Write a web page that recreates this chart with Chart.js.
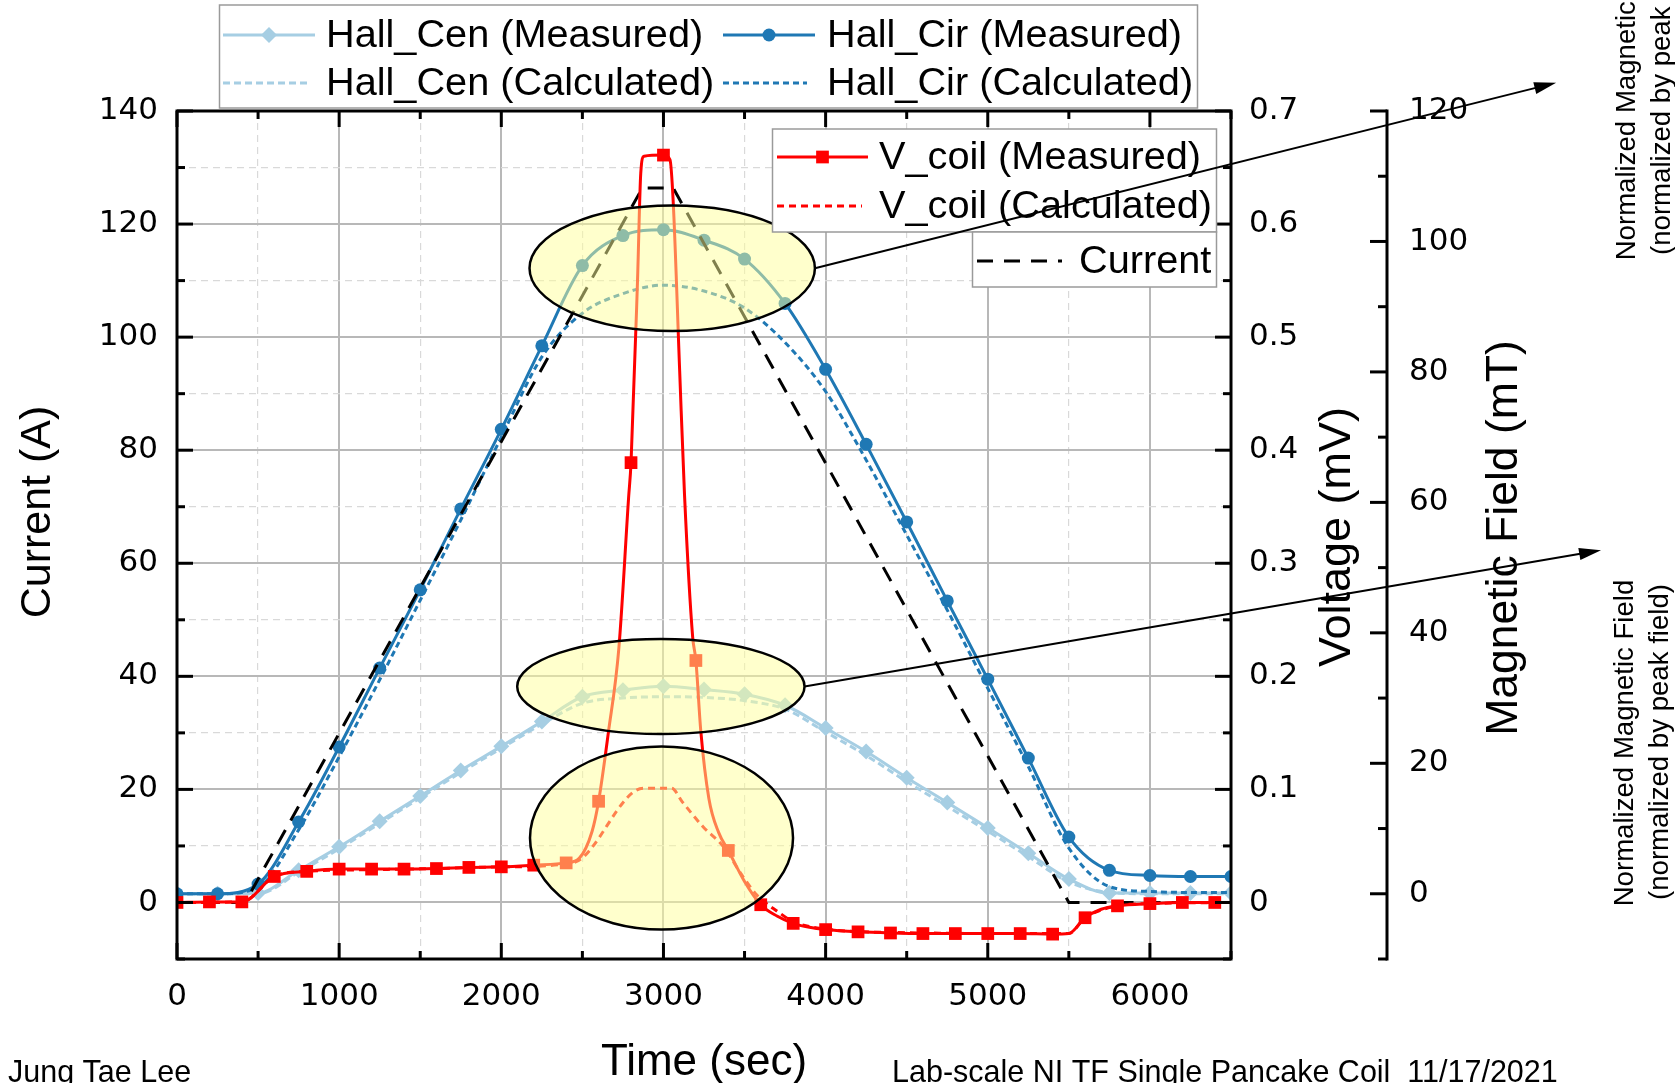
<!DOCTYPE html>
<html>
<head>
<meta charset="utf-8">
<script src="https://cdn.jsdelivr.net/npm/chart.js@4.4.0/dist/chart.umd.min.js"></script>
<style>
  html, body { margin: 0; padding: 0; background: #fff; }
  #grafico { display: block; }
</style>
</head>
<body>
<canvas id="grafico" width="1675" height="1083"></canvas>
<script>
// Hall probes, one sample every 250 s (mT)
const tiempoHall = [0,250,500,750,1000,1250,1500,1750,2000,2250,2500,2750,3000,3250,3500,3750,4000,4250,4500,4750,5000,5250,5500,5750,6000,6250,6500];
const hallCenMedido    = [0,0,0.1,3.6,7.2,11.1,15.0,18.9,22.6,26.4,30.2,31.2,31.8,31.3,30.6,28.9,25.4,21.8,17.8,14.0,10.1,6.2,2.25,0.1,0.1,0.1,0.1];
const hallCenCalculado = [0,0,0,3.3,6.9,10.8,14.7,18.6,22.3,26.0,29.2,30.0,30.2,30.1,29.6,28.3,24.8,21.2,17.2,13.4,9.6,5.7,1.8,0.2,0,0,0];
const hallCirMedido    = [0,0,1.5,11.0,22.5,34.6,46.6,59.0,71.2,84.0,96.3,100.9,101.8,100.2,97.3,90.5,80.4,68.9,57.0,44.9,32.9,20.8,8.7,3.6,2.8,2.65,2.65];
const hallCirCalculado = [0,0,1.0,9.8,21.0,32.8,45.0,57.3,70.0,82.3,89.0,92.0,93.3,92.4,89.8,84.5,77.0,66.5,55.0,43.5,31.5,19.5,7.0,1.1,0.35,0.2,0.2];

// Coil voltage, measured (mV)
const tiempoVcoil = [0,200,400,600,800,1000,1200,1400,1600,1800,2000,2200,2400,2480,2560,2600,2660,2725,2785,2800,2840,2860,2880,3000,3040,3060,3100,3130,3180,3200,3230,3280,3340,3400,3500,3600,3700,3800,3900,4000,4200,4400,4600,4800,5000,5200,5400,5500,5600,5700,5800,6000,6200,6400,6500];
const vcoilMedido = [0,0.0005,0.0005,0.023,0.0275,0.0295,0.0295,0.0295,0.030,0.031,0.0315,0.033,0.035,0.039,0.063,0.0895,0.15,0.225,0.358,0.389,0.55,0.645,0.66,0.661,0.657,0.62,0.47,0.36,0.235,0.214,0.152,0.092,0.062,0.046,0.0185,-0.002,-0.012,-0.0185,-0.022,-0.024,-0.026,-0.027,-0.0275,-0.0275,-0.0275,-0.0275,-0.028,-0.0275,-0.0135,-0.006,-0.003,-0.001,0,0,0];

// Coil voltage, calculated (mV)
const tiempoVcalc = [0,400,600,800,1200,1600,2000,2440,2876,3050,3116,3244,3372,3480,3576,3704,3800,4000,4400,5400,5500,5600,5800,6000,6500];
const vcoilCalculado = [0,0.0005,0.023,0.0275,0.029,0.030,0.0315,0.035,0.101,0.101,0.089,0.067,0.049,0.025,0.0065,-0.008,-0.017,-0.0235,-0.0265,-0.0275,-0.0275,-0.0135,-0.003,-0.001,0];

// Operating current (A)
const tiempoCorriente = [0,420,2870,3060,5500,6500];
const corriente = [0,0,126.4,126.4,0,0];

const AZUL_CLARO = '#a6cee3';
const AZUL = '#1f78b4';
const ROJO = '#ff0000';
const TEXTO = '"Liberation Sans", Arial, sans-serif';
const NUMEROS = '"DejaVu Sans", sans-serif';

const puntos = (xs, ys) => xs.map((x, i) => ({x: x, y: ys[i]}));

// Highlight ellipses, in data units (s, A)
const elipses = [
  {t: 3054, i: 112.2, dt: 880, di: 11.1},
  {t: 2984, i: 38.2,  dt: 886, di: 8.4},
  {t: 2988, i: 11.4,  dt: 811, di: 16.2}
];
// Arrows leave the right edge of an ellipse and end outside the plot
const flechas = [
  {desde: 0, t: 8505, i: 145},
  {desde: 1, t: 8782, i: 62.3}
];

function raya(ctx, x1, y1, x2, y2) {
  ctx.beginPath(); ctx.moveTo(x1, y1); ctx.lineTo(x2, y2); ctx.stroke();
}

function marcador(ctx, tipo, x, y, r, color) {
  ctx.save();
  ctx.fillStyle = color;
  ctx.beginPath();
  if (tipo === 'circle') ctx.arc(x, y, r, 0, Math.PI * 2);
  if (tipo === 'rectRot') { ctx.moveTo(x, y - r); ctx.lineTo(x + r, y); ctx.lineTo(x, y + r); ctx.lineTo(x - r, y); ctx.closePath(); }
  if (tipo === 'rect') { const h = r * Math.SQRT1_2; ctx.rect(x - h, y - h, 2 * h, 2 * h); }
  ctx.fill();
  ctx.restore();
}

function muestra(ctx, ds, x0, x1, y, mx, texto, tx) {
  ctx.save();
  ctx.strokeStyle = ds.borderColor;
  ctx.lineWidth = ds.borderWidth;
  ctx.setLineDash(ds.borderDash || []);
  raya(ctx, x0, y, x1, y);
  ctx.restore();
  if (mx) marcador(ctx, ds.pointStyle, mx, y, ds.radioLeyenda, ds.borderColor);
  ctx.fillStyle = '#000';
  ctx.font = '39.7px ' + TEXTO;
  ctx.textAlign = 'left';
  ctx.textBaseline = 'middle';
  ctx.fillText(texto, tx, y + 1);
}

function caja(ctx, x, y, w, h) {
  ctx.save();
  ctx.fillStyle = '#fff';
  ctx.fillRect(x, y, w, h);
  ctx.strokeStyle = '#9a9a9a';
  ctx.lineWidth = 1.5;
  ctx.strokeRect(x, y, w, h);
  ctx.restore();
}

function textoVertical(ctx, texto, x, y, fuente, base) {
  ctx.save();
  ctx.translate(x, y);
  ctx.rotate(-Math.PI / 2);
  ctx.font = fuente;
  ctx.fillStyle = '#000';
  ctx.textAlign = 'center';
  ctx.textBaseline = base || 'alphabetic';
  ctx.fillText(texto, 0, 0);
  ctx.restore();
}

const decoracion = {
  id: 'decoracion',
  afterDatasetsDraw(chart) {
    const ctx = chart.ctx, a = chart.chartArea;
    const sx = chart.scales.x, sy = chart.scales.y, sv = chart.scales.yV, sb = chart.scales.yB;
    const ds = chart.data.datasets;
    ctx.save();

    // yellow ellipses over the curves
    elipses.forEach(e => {
      const cx = sx.getPixelForValue(e.t), cy = sy.getPixelForValue(e.i);
      const rx = sx.getPixelForValue(e.t + e.dt) - cx;
      const ry = cy - sy.getPixelForValue(e.i + e.di);
      ctx.beginPath();
      ctx.ellipse(cx, cy, rx, ry, 0, 0, Math.PI * 2);
      ctx.fillStyle = 'rgba(255,255,153,0.5)';
      ctx.fill();
      ctx.lineWidth = 2.5;
      ctx.strokeStyle = '#000';
      ctx.stroke();
    });

    // frame and inward ticks
    ctx.strokeStyle = '#000';
    ctx.lineWidth = 3;
    ctx.strokeRect(a.left, a.top, a.right - a.left, a.bottom - a.top);
    sx.ticks.forEach(t => {
      const px = sx.getPixelForValue(t.value), l = t.value % 1000 === 0 ? 16 : 8;
      raya(ctx, px, a.bottom, px, a.bottom - l);
      raya(ctx, px, a.top, px, a.top + l);
    });
    sy.ticks.forEach(t => {
      const py = sy.getPixelForValue(t.value), l = t.value % 20 === 0 ? 16 : 8;
      raya(ctx, a.left, py, a.left + l, py);
    });
    sv.ticks.forEach(t => {
      const py = sv.getPixelForValue(t.value), l = Math.round(t.value * 100) % 10 === 0 ? 16 : 8;
      raya(ctx, a.right, py, a.right - l, py);
    });
    // magnetic field axis
    raya(ctx, sb.left, a.top - 1.5, sb.left, a.bottom + 1.5);
    sb.ticks.forEach(t => {
      const py = sb.getPixelForValue(t.value), l = t.value % 20 === 0 ? 17 : 9;
      raya(ctx, sb.left, py, sb.left - l, py);
    });

    // legends
    caja(ctx, 219.5, 5, 978, 103);
    muestra(ctx, ds[5], 223, 315, 35, 269, 'Hall_Cen (Measured)', 326);
    muestra(ctx, ds[3], 723, 815, 35, 769, 'Hall_Cir (Measured)', 827);
    muestra(ctx, ds[6], 223, 307, 83, 0, 'Hall_Cen (Calculated)', 326);
    muestra(ctx, ds[4], 723, 807, 83, 0, 'Hall_Cir (Calculated)', 827);

    caja(ctx, 772.5, 129, 444, 103);
    muestra(ctx, ds[0], 777, 868, 157, 822.5, 'V_coil (Measured)', 879);
    muestra(ctx, ds[1], 777, 862, 206, 0, 'V_coil (Calculated)', 879);
    caja(ctx, 972.5, 232, 244, 55);
    muestra(ctx, ds[2], 977, 1062, 261, 0, 'Current', 1079);

    ctx.restore();
  },
  afterDraw(chart) {
    const ctx = chart.ctx;
    const sx = chart.scales.x, sy = chart.scales.y;
    ctx.save();

    // arrows
    flechas.forEach(f => {
      const e = elipses[f.desde];
      const x1 = sx.getPixelForValue(e.t + e.dt), y1 = sy.getPixelForValue(e.i);
      const x2 = sx.getPixelForValue(f.t), y2 = sy.getPixelForValue(f.i);
      const ang = Math.atan2(y2 - y1, x2 - x1);
      ctx.strokeStyle = '#000';
      ctx.lineWidth = 2;
      raya(ctx, x1, y1, x2 - 18 * Math.cos(ang), y2 - 18 * Math.sin(ang));
      ctx.fillStyle = '#000';
      ctx.beginPath();
      ctx.moveTo(x2, y2);
      ctx.lineTo(x2 - 22 * Math.cos(ang) + 6 * Math.sin(ang), y2 - 22 * Math.sin(ang) - 6 * Math.cos(ang));
      ctx.lineTo(x2 - 22 * Math.cos(ang) - 6 * Math.sin(ang), y2 - 22 * Math.sin(ang) + 6 * Math.cos(ang));
      ctx.closePath();
      ctx.fill();
    });

    // vertical axis titles
    textoVertical(ctx, 'Current (A)', 50, 512, '43px ' + TEXTO);
    textoVertical(ctx, 'Voltage (mV)', 1350, 537, '45px ' + TEXTO);
    textoVertical(ctx, 'Magnetic Field (mT)', 1517, 538, '44.5px ' + TEXTO);

    // side notes
    const nota = '27.6px ' + TEXTO;
    textoVertical(ctx, 'Normalized Magnetic Field', 1627, 97, nota, 'middle');
    textoVertical(ctx, '(normalized by peak field)', 1662, 97, nota, 'middle');
    textoVertical(ctx, 'Normalized Magnetic Field', 1625, 743, nota, 'middle');
    textoVertical(ctx, '(normalized by peak field)', 1660, 742, nota, 'middle');

    // footer
    ctx.font = '30.5px ' + TEXTO;
    ctx.fillStyle = '#000';
    ctx.textAlign = 'left';
    ctx.textBaseline = 'alphabetic';
    ctx.fillText('Jung Tae Lee', 8, 1082);
    ctx.fillText('Lab-scale NI TF Single Pancake Coil  11/17/2021', 892, 1082);
    ctx.restore();
  }
};

const gridColor = (paso) => c => (c.tick && c.tick.value % paso === 0) ? '#b8b8b8' : '#d9d9d9';
const gridAncho = (paso) => c => (c.tick && c.tick.value % paso === 0) ? 2 : 1.2;
const gridDash  = (paso) => c => (c.tick && c.tick.value % paso !== 0) ? [7, 5] : [];

new Chart(document.getElementById('grafico'), {
  type: 'line',
  data: {
    datasets: [
      {
        label: 'V_coil (Measured)',
        data: puntos(tiempoVcoil, vcoilMedido),
        yAxisID: 'yV',
        borderColor: ROJO, backgroundColor: ROJO,
        borderWidth: 3,
        pointStyle: 'rect',
        pointRadius: c => tiempoVcoil[c.dataIndex] % 200 === 0 ? 9 : 0,
        pointBorderWidth: 0,
        radioLeyenda: 9,
        cubicInterpolationMode: 'monotone',
        order: 0
      },
      {
        label: 'V_coil (Calculated)',
        data: puntos(tiempoVcalc, vcoilCalculado),
        yAxisID: 'yV',
        borderColor: ROJO,
        borderWidth: 3,
        borderDash: [7, 5],
        pointRadius: 0,
        cubicInterpolationMode: 'monotone',
        order: 1
      },
      {
        label: 'Current',
        data: puntos(tiempoCorriente, corriente),
        yAxisID: 'y',
        borderColor: '#000',
        borderWidth: 3,
        borderDash: [16, 11],
        pointRadius: 0,
        tension: 0,
        order: 2
      },
      {
        label: 'Hall_Cir (Measured)',
        data: puntos(tiempoHall, hallCirMedido),
        yAxisID: 'yB',
        borderColor: AZUL, backgroundColor: AZUL,
        borderWidth: 3,
        pointStyle: 'circle',
        pointRadius: 6.5,
        pointBorderWidth: 0,
        radioLeyenda: 6.5,
        cubicInterpolationMode: 'monotone',
        order: 3
      },
      {
        label: 'Hall_Cir (Calculated)',
        data: puntos(tiempoHall, hallCirCalculado),
        yAxisID: 'yB',
        borderColor: AZUL,
        borderWidth: 3,
        borderDash: [6, 4],
        pointRadius: 0,
        cubicInterpolationMode: 'monotone',
        order: 4
      },
      {
        label: 'Hall_Cen (Measured)',
        data: puntos(tiempoHall, hallCenMedido),
        yAxisID: 'yB',
        borderColor: AZUL_CLARO, backgroundColor: AZUL_CLARO,
        borderWidth: 3,
        pointStyle: 'rectRot',
        pointRadius: 8,
        pointBorderWidth: 0,
        radioLeyenda: 8,
        cubicInterpolationMode: 'monotone',
        order: 5
      },
      {
        label: 'Hall_Cen (Calculated)',
        data: puntos(tiempoHall, hallCenCalculado),
        yAxisID: 'yB',
        borderColor: AZUL_CLARO,
        borderWidth: 3,
        borderDash: [7, 4],
        pointRadius: 0,
        cubicInterpolationMode: 'monotone',
        order: 6
      }
    ]
  },
  options: {
    responsive: false,
    devicePixelRatio: 1,
    animation: false,
    events: [],
    layout: { padding: { top: 111, left: 0, right: 0, bottom: 0 } },
    plugins: { legend: { display: false }, tooltip: { enabled: false } },
    scales: {
      x: {
        type: 'linear', position: 'bottom',
        min: 0, max: 6500,
        afterFit: s => { s.height = 124; },
        ticks: {
          stepSize: 500, autoSkip: false, maxRotation: 0, maxTicksLimit: 100,
          padding: 19, color: '#000', font: { family: NUMEROS, size: 31 },
          callback: v => v % 1000 === 0 ? String(v) : ''
        },
        grid: { drawTicks: false, color: gridColor(1000), lineWidth: gridAncho(1000) },
        border: { display: false, dash: gridDash(1000) },
        title: {
          display: true, text: 'Time (sec)', color: '#000',
          font: { family: TEXTO, size: 44, lineHeight: 0.9 },
          padding: { top: 0, bottom: 0 }
        }
      },
      y: {
        type: 'linear', position: 'left',
        min: -10, max: 140,
        afterFit: s => { s.width = 177; },
        ticks: {
          stepSize: 10, maxTicksLimit: 100,
          padding: 19, color: '#000', font: { family: NUMEROS, size: 31 },
          callback: v => (v % 20 === 0 && v >= 0) ? String(v) : ''
        },
        grid: { drawTicks: false, color: gridColor(20), lineWidth: gridAncho(20) },
        border: { display: false, dash: gridDash(20) }
      },
      yV: {
        type: 'linear', position: 'right', weight: 1,
        min: -0.05, max: 0.7,
        afterFit: s => { s.width = 156; },
        ticks: {
          stepSize: 0.05, maxTicksLimit: 100,
          padding: 18, color: '#000', font: { family: NUMEROS, size: 31 },
          callback: v => {
            const k = Math.round(v * 100);
            return (k % 10 === 0 && k >= 0) ? (k === 0 ? '0' : (k / 100).toFixed(1)) : '';
          }
        },
        grid: { drawTicks: false, drawOnChartArea: false },
        border: { display: false }
      },
      yB: {
        type: 'linear', position: 'right', weight: 2,
        min: -10, max: 120,
        afterFit: s => { s.width = 288; },
        ticks: {
          stepSize: 10, maxTicksLimit: 100,
          padding: 22, color: '#000', font: { family: NUMEROS, size: 31 },
          callback: v => (v % 20 === 0 && v >= 0) ? String(v) : ''
        },
        grid: { drawTicks: false, drawOnChartArea: false },
        border: { display: false }
      }
    }
  },
  plugins: [decoracion]
});
</script>
</body>
</html>
